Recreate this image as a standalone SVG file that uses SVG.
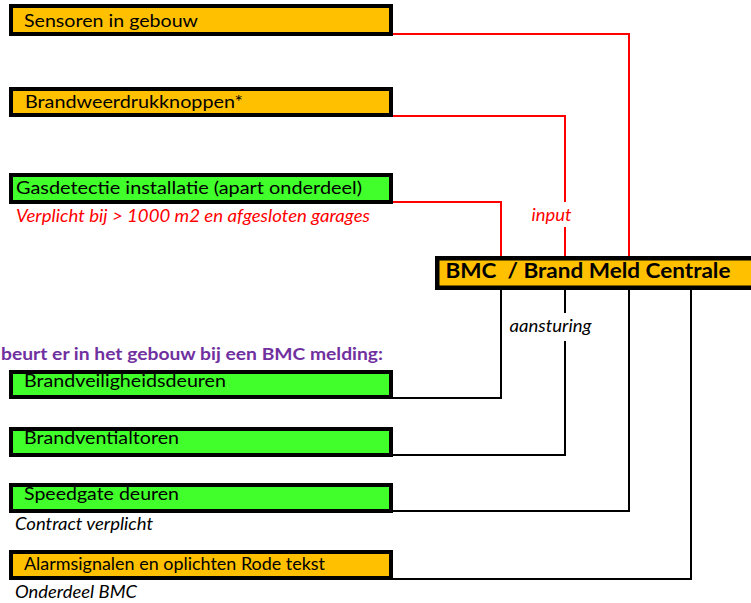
<svg xmlns="http://www.w3.org/2000/svg" width="751" height="603" viewBox="0 0 751 603">
<style>
.box{stroke:#000;stroke-width:4}
.org{fill:#FFC000}
.grn{fill:#40FF2A}
.t{font-family:Lato,"Open Sans","Liberation Sans",sans-serif;font-size:18px;fill:#000}
.it{font-family:Lato,"Open Sans","Liberation Sans",sans-serif;font-style:italic;font-size:17px}
.red{stroke:#FF0000;stroke-width:2;fill:none}
.blk{stroke:#000;stroke-width:2;fill:none}
</style>
<rect width="751" height="603" fill="#fff"/>
<g id="connectors">
<polyline class="red" points="392,34 629,34 629,257"/>
<polyline class="red" points="392,116 565,116 565,202"/>
<line class="red" x1="565" y1="227" x2="565" y2="257"/>
<polyline class="red" points="392,202 501,202 501,257"/>
<polyline class="blk" points="501,290 501,398 392,398"/>
<line class="blk" x1="565" y1="290" x2="565" y2="313"/>
<polyline class="blk" points="565,341 565,455 392,455"/>
<polyline class="blk" points="629,290 629,511 392,511"/>
<polyline class="blk" points="691,290 691,579 392,579"/>
<text x="551.5" y="221" text-anchor="middle" class="it" fill="#FF0000" textLength="40" lengthAdjust="spacingAndGlyphs">input</text>
<text x="550.5" y="332" text-anchor="middle" class="it" fill="#000" textLength="82" lengthAdjust="spacingAndGlyphs">aansturing</text>
</g>
<g id="sensoren">
<rect class="box org" x="11" y="6" width="380" height="28"/>
<text class="t" x="24" y="27" textLength="174" lengthAdjust="spacingAndGlyphs">Sensoren in gebouw</text>
</g>
<g id="brandweerdrukknoppen">
<rect class="box org" x="11" y="89" width="380" height="26"/>
<text class="t" x="25" y="107.5" textLength="218" lengthAdjust="spacingAndGlyphs">Brandweerdrukknoppen*</text>
</g>
<g id="gasdetectie">
<rect class="box grn" x="11" y="175" width="380" height="27"/>
<text class="t" x="16" y="193.5" textLength="346" lengthAdjust="spacingAndGlyphs">Gasdetectie installatie (apart onderdeel)</text>
<text class="it" x="16" y="221.5" fill="#FF0000" textLength="354" lengthAdjust="spacingAndGlyphs">Verplicht bij &gt; 1000 m2 en afgesloten garages</text>
</g>
<g id="bmc">
<rect class="box org" x="437.25" y="258.25" width="330" height="29.5" style="stroke-width:4.5"/>
<text x="445.5" y="277.5" font-family="Lato,'Open Sans','Liberation Sans',sans-serif" font-weight="bold" font-size="20" fill="#000" textLength="285" lengthAdjust="spacingAndGlyphs" xml:space="preserve">BMC  / Brand Meld Centrale</text>
</g>
<g id="heading">
<text x="1" y="360" font-family="Lato,'Open Sans','Liberation Sans',sans-serif" font-weight="bold" font-size="17" fill="#7030A0" textLength="382" lengthAdjust="spacingAndGlyphs">beurt er in het gebouw bij een BMC melding:</text>
</g>
<g id="brandveiligheidsdeuren">
<rect class="box grn" x="11" y="372" width="380" height="25"/>
<text class="t" x="24" y="387" textLength="202" lengthAdjust="spacingAndGlyphs">Brandveiligheidsdeuren</text>
</g>
<g id="brandventialtoren">
<rect class="box grn" x="11" y="429" width="380" height="26"/>
<text class="t" x="24" y="444" textLength="155" lengthAdjust="spacingAndGlyphs">Brandventialtoren</text>
</g>
<g id="speedgate">
<rect class="box grn" x="11" y="485" width="380" height="26"/>
<text class="t" x="24" y="499.5" textLength="155" lengthAdjust="spacingAndGlyphs">Speedgate deuren</text>
<text class="it" x="15" y="529.5" fill="#000" font-size="16" textLength="138" lengthAdjust="spacingAndGlyphs">Contract verplicht</text>
</g>
<g id="alarmsignalen">
<rect class="box org" x="11" y="552" width="380" height="26"/>
<text class="t" x="24" y="570" textLength="301" lengthAdjust="spacingAndGlyphs">Alarmsignalen en oplichten Rode tekst</text>
<text class="it" x="15" y="598" fill="#000" font-size="16" textLength="122" lengthAdjust="spacingAndGlyphs">Onderdeel BMC</text>
</g>
</svg>
